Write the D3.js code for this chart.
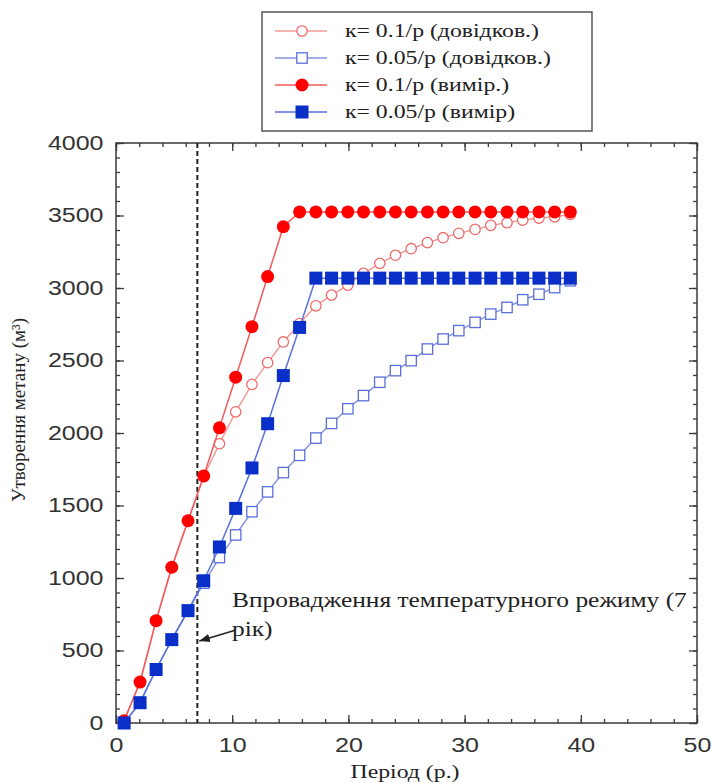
<!DOCTYPE html>
<html>
<head>
<meta charset="utf-8">
<script src="https://cdn.jsdelivr.net/npm/d3@7/dist/d3.min.js"></script>
<style>
  html, body { margin: 0; padding: 0; background: #fff; }
  svg { display: block; }
</style>
</head>
<body>
<svg id="chart" width="711" height="783"></svg>
<script>
// Period (years) at each sample
const period = [0.7, 2.07, 3.45, 4.8, 6.2, 7.55, 8.9, 10.3, 11.7, 13.05, 14.4, 15.8, 17.2, 18.55,
  19.95, 21.3, 22.7, 24.05, 25.4, 26.8, 28.15, 29.5, 30.9, 32.25, 33.65, 35.0, 36.4, 37.75, 39.1];

// Methane formation, m³
const refK01 = [15, 282, 706, 1074, 1395, 1700, 1926, 2146, 2335, 2485, 2628, 2755, 2877, 2951,
  3020, 3101, 3170, 3226, 3271, 3313, 3347, 3377, 3404, 3432, 3450, 3468, 3482, 3491, 3507];
const refK005 = [0, 140, 369, 575, 775, 964, 1141, 1297, 1457, 1594, 1727, 1846, 1965, 2066,
  2167, 2258, 2350, 2430, 2499, 2579, 2648, 2706, 2763, 2820, 2866, 2919, 2957, 3003, 3050];
const measK01 = [15, 282, 706, 1074, 1395, 1704, 2036, 2385, 2733, 3079, 3423, 3525, 3525, 3525,
  3525, 3525, 3525, 3525, 3525, 3525, 3525, 3525, 3525, 3525, 3525, 3525, 3525, 3525, 3525];
const measK005 = [0, 140, 369, 575, 775, 981, 1214, 1480, 1759, 2064, 2396, 2728, 3068, 3068,
  3068, 3068, 3068, 3068, 3068, 3068, 3068, 3068, 3068, 3068, 3068, 3068, 3068, 3068, 3068];

const seriesNames = ["к= 0.1/р (довідков.)", "к= 0.05/р (довідков.)", "к= 0.1/р (вимір.)", "к= 0.05/р (вимір)"];
const xTicks = [0, 10, 20, 30, 40, 50];
const yTicks = [0, 500, 1000, 1500, 2000, 2500, 3000, 3500, 4000];
const eventYear = 7;
const eventLabel = ["Впровадження температурного режиму (7", "рік)"];
const xTitle = "Період (р.)";
const yTitle = "Утворення метану (м³)";

const svg = d3.select("#chart");
const L = 116, T = 143, R = 697, B = 723;
const x = d3.scaleLinear().domain([0, 50]).range([L, R]);
const y = d3.scaleLinear().domain([0, 4000]).range([B, T]);

// Text in this figure is set slightly wide
const stretch = 1.25;
const sans = "'Liberation Sans', Arial, sans-serif";
const serif = "'Liberation Serif', 'Times New Roman', serif";

const series = [
  { name: seriesNames[0], values: refK01, shape: "circle", filled: false, color: "#f06a6a", line: "#f29a9a" },
  { name: seriesNames[1], values: refK005, shape: "square", filled: false, color: "#5a6fd8", line: "#8694e0" },
  { name: seriesNames[2], values: measK01, shape: "circle", filled: true, color: "#ff0000", line: "#f45a5a" },
  { name: seriesNames[3], values: measK005, shape: "square", filled: true, color: "#0a2fc8", line: "#5a72dc" }
];

// Frame
const axisColor = "#3a3a3a";
svg.append("rect").attr("x", L).attr("y", T).attr("width", R - L).attr("height", B - T)
  .attr("fill", "none").attr("stroke", axisColor).attr("stroke-width", 1.5);

// Ticks pointing inward on all four sides
function tickAxis(axisFn, scale, values, size, transform) {
  const g = svg.append("g").attr("transform", transform)
    .call(axisFn(scale).tickValues(values).tickSize(size).tickFormat(""));
  g.select(".domain").remove();
  g.selectAll("line").attr("stroke", axisColor).attr("stroke-width", 1.3);
  return g;
}
const xMinor = d3.range(0, 51, 2);
const yMinor = d3.range(0, 4001, 100);
tickAxis(d3.axisTop, x, xMinor, 4, `translate(0,${B})`);
tickAxis(d3.axisTop, x, xTicks, 8, `translate(0,${B})`);
tickAxis(d3.axisBottom, x, xMinor, 4, `translate(0,${T})`);
tickAxis(d3.axisBottom, x, xTicks, 8, `translate(0,${T})`);
tickAxis(d3.axisRight, y, yMinor, 4, `translate(${L},0)`);
tickAxis(d3.axisRight, y, yTicks, 8, `translate(${L},0)`);
tickAxis(d3.axisLeft, y, yMinor, 4, `translate(${R},0)`);
tickAxis(d3.axisLeft, y, yTicks, 8, `translate(${R},0)`);

// Tick labels
const gx = svg.append("g").attr("transform", `translate(0,${B})`)
  .call(d3.axisBottom(x).tickValues(xTicks).tickSize(0).tickPadding(15).tickFormat(d3.format("d")));
gx.select(".domain").remove();
gx.selectAll("text").attr("font-family", sans).attr("font-size", 20).attr("fill", "#333")
  .attr("transform", `scale(${stretch},1)`);

const gy = svg.append("g").attr("transform", `translate(${L},0)`)
  .call(d3.axisLeft(y).tickValues(yTicks).tickSize(0).tickPadding(10).tickFormat(d3.format("d")));
gy.select(".domain").remove();
gy.selectAll("text").attr("font-family", sans).attr("font-size", 20).attr("fill", "#333")
  .attr("transform", `scale(${stretch},1)`);

// Axis titles
svg.append("text").attr("transform", `translate(405,778) scale(${stretch},1)`).attr("text-anchor", "middle")
  .attr("font-family", serif).attr("font-size", 19).attr("fill", "#222").text(xTitle);
svg.append("text").attr("transform", "translate(25,410) rotate(-90)").attr("text-anchor", "middle")
  .attr("font-family", serif).attr("font-size", 19).attr("fill", "#222").text(yTitle);

// Event marker
svg.append("line").attr("x1", x(eventYear)).attr("x2", x(eventYear)).attr("y1", T).attr("y2", B)
  .attr("stroke", "#222").attr("stroke-width", 2).attr("stroke-dasharray", "5,3");

// Series lines and markers
const line = d3.line().x((d, i) => x(period[i])).y(d => y(d));
function drawMarker(g, s, cx, cy) {
  const r = s.filled ? 6.5 : 5.2;
  if (s.shape === "circle") {
    g.append("circle").attr("cx", cx).attr("cy", cy).attr("r", r)
      .attr("fill", s.filled ? s.color : "#fff").attr("stroke", s.color).attr("stroke-width", s.filled ? 0 : 1.3);
  } else {
    g.append("rect").attr("x", cx - r).attr("y", cy - r).attr("width", 2 * r).attr("height", 2 * r)
      .attr("fill", s.filled ? s.color : "#fff").attr("stroke", s.color).attr("stroke-width", s.filled ? 0 : 1.3);
  }
}
series.forEach(s => {
  const g = svg.append("g");
  g.append("path").datum(s.values).attr("d", line).attr("fill", "none")
    .attr("stroke", s.line).attr("stroke-width", 1.5);
  s.values.forEach((v, i) => drawMarker(g, s, x(period[i]), y(v)));
});

// Annotation
svg.append("text").attr("transform", `translate(232,607) scale(1.27,1)`).attr("font-family", serif)
  .attr("font-size", 20).attr("fill", "#222").text(eventLabel[0]);
svg.append("text").attr("transform", `translate(232,636) scale(1.27,1)`).attr("font-family", serif)
  .attr("font-size", 20).attr("fill", "#222").text(eventLabel[1]);
svg.append("defs").append("marker").attr("id", "arrow").attr("viewBox", "0 0 10 10")
  .attr("refX", 10).attr("refY", 5).attr("markerWidth", 7).attr("markerHeight", 7)
  .attr("orient", "auto").append("path").attr("d", "M0,1 L10,5 L0,9 Z").attr("fill", "#222");
svg.append("line").attr("x1", 236).attr("y1", 630).attr("x2", x(eventYear) + 2).attr("y2", 641)
  .attr("stroke", "#222").attr("stroke-width", 1.5).attr("marker-end", "url(#arrow)");

// Legend
const lg = svg.append("g");
lg.append("rect").attr("x", 262).attr("y", 12).attr("width", 330).attr("height", 119)
  .attr("fill", "#fff").attr("stroke", "#555").attr("stroke-width", 1.5);
series.forEach((s, i) => {
  const cy = 31 + i * 27;
  lg.append("line").attr("x1", 275).attr("x2", 327).attr("y1", cy).attr("y2", cy)
    .attr("stroke", s.line).attr("stroke-width", 1.5);
  drawMarker(lg, s, 302, cy);
  lg.append("text").attr("transform", `translate(345,${cy + 6}) scale(${stretch},1)`)
    .attr("font-family", serif).attr("font-size", 19).attr("fill", "#222").text(s.name);
});
</script>
</body>
</html>
